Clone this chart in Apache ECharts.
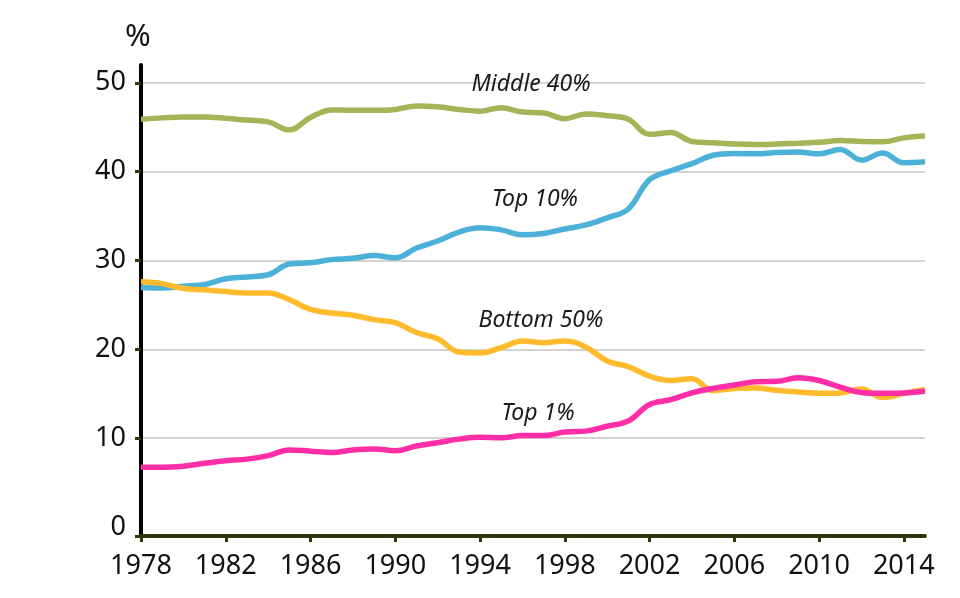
<!DOCTYPE html>
<html>
<head>
<meta charset="utf-8">
<script src="https://cdn.jsdelivr.net/npm/echarts@6/dist/echarts.min.js"></script>
<style>
html,body{margin:0;padding:0;background:#fff;}
#chart{width:960px;height:598px;}
</style>
</head>
<body>
<div id="chart"></div>
<script>
const years = ['1978','1979','1980','1981','1982','1983','1984','1985','1986','1987','1988','1989','1990','1991','1992','1993','1994','1995','1996','1997','1998','1999','2000','2001','2002','2003','2004','2005','2006','2007','2008','2009','2010','2011','2012','2013','2014','2015'];

const middle40 = [45.9,46.05,46.15,46.15,46.0,45.8,45.6,44.7,46.1,46.95,46.9,46.9,47.0,47.4,47.3,47.0,46.8,47.2,46.7,46.6,45.96,46.5,46.3,45.9,44.2,44.4,43.4,43.25,43.1,43.05,43.1,43.2,43.3,43.5,43.4,43.35,43.8,44.0];

const top10 = [26.95,26.9,27.1,27.3,27.95,28.15,28.4,29.6,29.75,30.1,30.25,30.55,30.3,31.4,32.2,33.2,33.7,33.45,32.9,33.05,33.55,34.0,34.8,35.8,39.1,40.1,40.9,41.85,42.05,42.0,42.15,42.2,42.0,42.5,41.3,42.1,41.0,41.1];

const bottom50 = [27.6,27.4,26.85,26.7,26.5,26.35,26.35,25.6,24.5,24.1,23.85,23.35,23.0,21.9,21.2,19.7,19.6,20.2,20.95,20.75,20.95,20.25,18.7,18.05,17.0,16.5,16.7,15.35,15.6,15.65,15.4,15.2,15.05,15.1,15.55,14.6,15.05,15.5];

const top1 = [6.73,6.73,6.85,7.18,7.47,7.65,8.05,8.68,8.55,8.4,8.68,8.8,8.6,9.13,9.5,9.9,10.1,10.05,10.3,10.3,10.7,10.8,11.35,11.95,13.8,14.35,15.1,15.6,16.0,16.35,16.4,16.8,16.5,15.75,15.15,15.05,15.1,15.3];

const yTickLabels = [0,10,20,30,40,50];
const yTickMarks = [-1,10,20,30,40,50];

// annotation anchors: [category, value]
const labelMiddle = ['1996', 49.86];
const labelTop10 = ['1996', 36.9];
const labelBottom50 = ['1996', 23.3];
const labelTop1 = ['1996', 12.84];

const FONT = 'Noto Sans';

function annot(text, coord, dx) {
  return {
    symbol: 'circle',
    symbolSize: 0,
    silent: true,
    data: [{ name: text, coord: coord }],
    label: {
      show: true,
      position: 'inside',
      formatter: '{b}',
      offset: [dx, 0],
      fontFamily: FONT,
      fontStyle: 'italic',
      fontSize: 23,
      color: '#1a1a1a'
    }
  };
}

const chart = echarts.init(document.getElementById('chart'));
chart.setOption({
  animation: false,
  backgroundColor: '#fff',
  grid: { left: 141, right: 35, top: 65, bottom: 62, containLabel: false },
  xAxis: {
    type: 'category',
    data: years,
    boundaryGap: false,
    axisLine: { onZero: false, lineStyle: { color: '#35350d', width: 4 } },
    axisTick: { show: true, interval: 3, length: 6, lineStyle: { color: '#35350d', width: 3 } },
    axisLabel: { interval: 3, margin: 17, fontFamily: FONT, fontSize: 27, color: '#111' },
    splitLine: { show: false }
  },
  yAxis: {
    type: 'value',
    min: -1,
    max: 52,
    name: '%',
    nameLocation: 'end',
    nameGap: 12,
    nameTextStyle: { fontFamily: FONT, fontSize: 31, color: '#111', align: 'center', padding: [0, 6, 0, 0] },
    axisLine: { show: true, lineStyle: { color: '#000', width: 4 } },
    axisTick: { show: true, customValues: yTickMarks, length: 6, lineStyle: { color: '#35350d', width: 3 } },
    axisLabel: { customValues: yTickLabels, margin: 15, fontFamily: FONT, fontSize: 27, color: '#111' },
    splitLine: { show: true, lineStyle: { color: '#d3d3d3', width: 2 } }
  },
  series: [
    { name: 'Middle 40%', type: 'line', data: middle40, smooth: 0.4, showSymbol: false,
      lineStyle: { color: '#a3b556', width: 5.5 }, itemStyle: { color: '#a3b556' },
      markPoint: annot('Middle 40%', labelMiddle, 8.6) },
    { name: 'Top 10%', type: 'line', data: top10, smooth: 0.4, showSymbol: false,
      lineStyle: { color: '#4cb1d8', width: 5.5 }, itemStyle: { color: '#4cb1d8' },
      markPoint: annot('Top 10%', labelTop10, 12.6) },
    { name: 'Bottom 50%', type: 'line', data: bottom50, smooth: 0.4, showSymbol: false,
      lineStyle: { color: '#ffbb2b', width: 5.5 }, itemStyle: { color: '#ffbb2b' },
      markPoint: annot('Bottom 50%', labelBottom50, 18.6) },
    { name: 'Top 1%', type: 'line', data: top1, smooth: 0.4, showSymbol: false,
      lineStyle: { color: '#ff2ea6', width: 5.5 }, itemStyle: { color: '#ff2ea6' },
      markPoint: annot('Top 1%', labelTop1, 15.6) }
  ]
});
</script>
</body>
</html>
